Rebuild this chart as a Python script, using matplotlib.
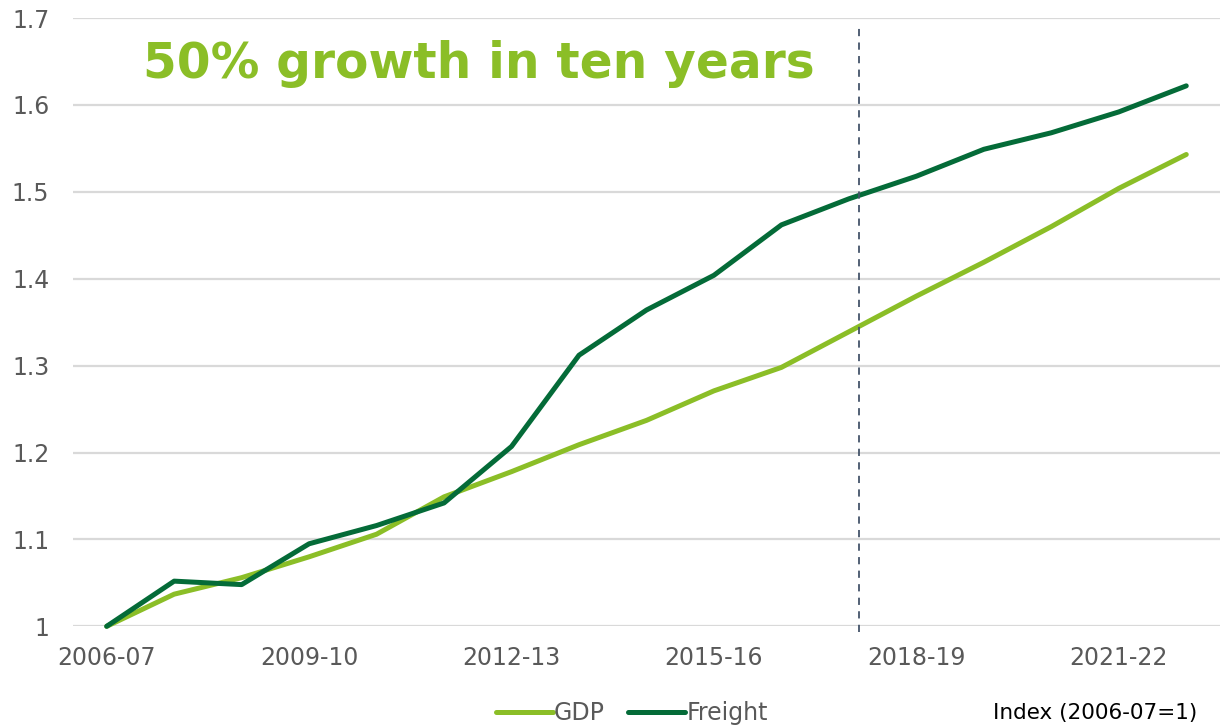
import matplotlib
matplotlib.use("Agg")
import matplotlib.pyplot as plt

years = ["2006-07", "2007-08", "2008-09", "2009-10", "2010-11", "2011-12",
         "2012-13", "2013-14", "2014-15", "2015-16", "2016-17", "2017-18",
         "2018-19", "2019-20", "2020-21", "2021-22", "2022-23"]
gdp = [1.000, 1.037, 1.056, 1.080, 1.106, 1.149, 1.178, 1.209, 1.237, 1.271,
       1.298, 1.339, 1.380, 1.419, 1.460, 1.504, 1.543]
freight = [1.000, 1.052, 1.048, 1.095, 1.116, 1.142, 1.207, 1.312, 1.364, 1.404,
           1.462, 1.492, 1.518, 1.549, 1.568, 1.592, 1.622]
yticks = [1, 1.1, 1.2, 1.3, 1.4, 1.5, 1.6, 1.7]
ytick_labels = ["1", "1.1", "1.2", "1.3", "1.4", "1.5", "1.6", "1.7"]
xtick_idx = [0, 3, 6, 9, 12, 15]
title = "50% growth in ten years"
note = "Index (2006-07=1)"
forecast_pos = 11.15

GDP_C = "#8BBE27"
FR_C = "#046B38"
GRAY = "#595959"

plt.rcParams['font.family'] = ['DejaVu Sans']

fig = plt.figure(figsize=(12.2, 7.26), dpi=100)
ax = fig.add_axes([0.0598, 0.1373, 0.9402, 0.8378])

x = list(range(len(years)))
ax.plot(x, gdp, color=GDP_C, lw=3.6, solid_capstyle='round', solid_joinstyle='round',
        label="GDP", zorder=3, clip_on=False)
ax.plot(x, freight, color=FR_C, lw=3.6, solid_capstyle='round', solid_joinstyle='round',
        label="Freight", zorder=4, clip_on=False)

ax.set_xlim(-0.5, len(years) - 0.5)
ax.set_ylim(1.0, 1.7)
ax.set_yticks(yticks)
ax.set_yticklabels(ytick_labels)
ax.set_xticks(xtick_idx)
ax.set_xticklabels([years[i] for i in xtick_idx])
ax.tick_params(axis='y', length=0, pad=17, labelsize=17, labelcolor=GRAY)
ax.tick_params(axis='x', length=0, pad=14, labelsize=17, labelcolor=GRAY)
for s in ax.spines.values():
    s.set_visible(False)
ax.grid(axis='y', color="#D9D9D9", lw=1.6)
ax.set_axisbelow(True)

ax.axvline(forecast_pos, ymin=-0.01, ymax=0.988, color="#44546A", lw=1.3,
           ls=(0, (4, 3.5)), clip_on=False, zorder=5)

ax.text(0.0615, 0.925, title, transform=ax.transAxes, fontsize=35, fontweight='bold',
        color=GDP_C, ha='left', va='center')

leg = fig.legend(loc='center', bbox_to_anchor=(0.518, 0.018), ncol=2, frameon=False,
                 fontsize=17, handlelength=2.4, handletextpad=0.05, columnspacing=1.0)
for t in leg.get_texts():
    t.set_color(GRAY)

fig.text(0.981, 0.018, note, fontsize=15.5, color="black", ha='right', va='center')

fig.savefig("out.png", dpi=100)
